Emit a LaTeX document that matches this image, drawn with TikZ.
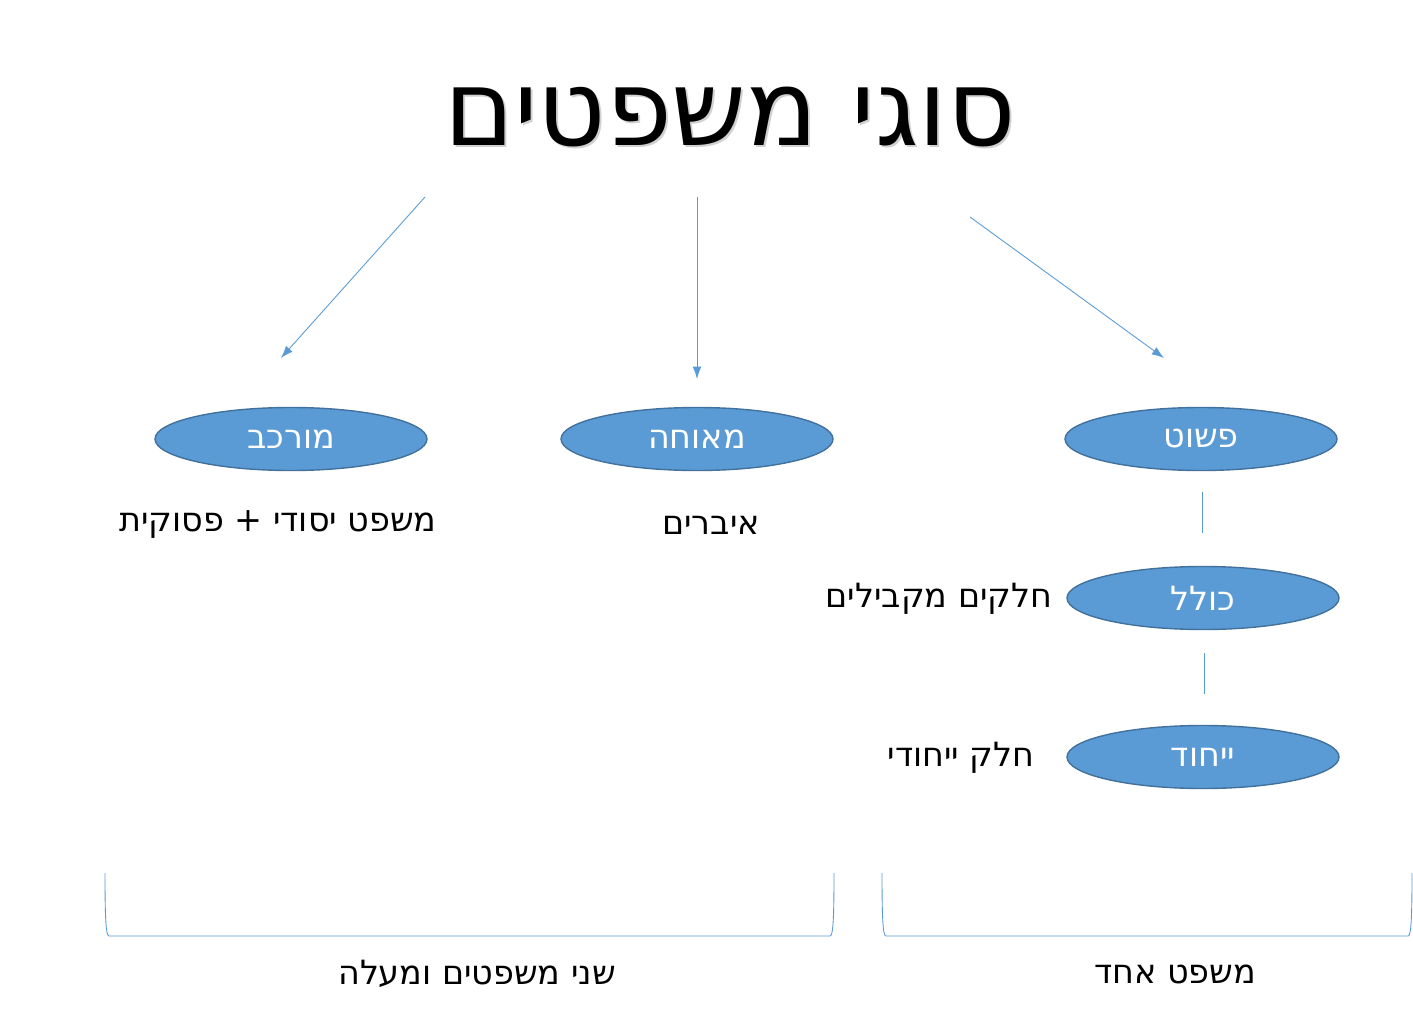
\documentclass[tikz,border=0pt]{standalone}
\usepackage{fontspec}
\setmainfont{DejaVu Sans}
\usetikzlibrary{arrows.meta,shapes.geometric}
\TeXXeTstate=1
\newcommand{\heb}[1]{\beginR #1\endR}
\definecolor{blu}{HTML}{5B9BD5}
\definecolor{bord}{HTML}{41719C}
\begin{document}
\begin{tikzpicture}[x=0.02cm,y=-0.02cm,
  ov/.style={ellipse,fill=blu,draw=bord,line width=0.8pt,minimum width=272*0.02cm,minimum height=63*0.02cm,inner sep=0pt,text=white,font=\fontsize{19}{22}\selectfont},
  lab/.style={font=\fontsize{19}{22}\selectfont,inner sep=0pt},
  arr/.style={draw=blu,line width=0.5pt,-{Latex[length=7pt,width=5pt]}},
  ln/.style={draw=blu,line width=0.5pt}]
\useasboundingbox (0,0) rectangle (1413,1017);
\node[font=\fontsize{60}{68}\selectfont,text=black!18,inner sep=0pt] (shadow) at (732,119) {\heb{סוגי משפטים}};
\node[font=\fontsize{60}{68}\selectfont,inner sep=0pt] (title) at (730,117) {\heb{סוגי משפטים}};
\coordinate (a1) at (425,197); \coordinate (b1) at (281,358);
\coordinate (a2) at (697,197); \coordinate (b2) at (697,379);
\coordinate (a3) at (970,217); \coordinate (b3) at (1164,358);
\draw[arr] (a1) -- (b1);
\draw[arr] (a2) -- (b2);
\draw[arr] (a3) -- (b3);
\node[ov] (murkav) at (291,439) {\heb{מורכב}};
\node[ov] (meuhe) at (697,439) {\heb{מאוחה}};
\node[ov] (pashut) at (1201,439) {\heb{פשוט}};
\node[ov] (kolel) at (1203,598) {\heb{כולל}};
\node[ov] (yihud) at (1203,757) {\heb{ייחוד}};
\node[lab] (l1) at (278,525) {\heb{משפט יסודי + פסוקית}};
\node[lab] (l2) at (711,525) {\heb{איברים}};
\node[lab] (l3) at (939,599) {\heb{חלקים מקבילים}};
\node[lab] (l4) at (961,758) {\heb{חלק ייחודי}};
\coordinate (v1) at (1202,492); \coordinate (v2) at (1202,533);
\coordinate (v3) at (1204,653); \coordinate (v4) at (1204,694);
\draw[ln] (v1) -- (v2);
\draw[ln] (v3) -- (v4);
\draw[ln] (105,873) .. controls (105,920) and (106,936) .. (109,936) -- (830,936) .. controls (833,936) and (834,920) .. (834,873);
\draw[ln] (882,873) .. controls (882,920) and (883,936) .. (886,936) -- (1408,936) .. controls (1411,936) and (1412,920) .. (1412,873);
\node[lab] (b1l) at (477,974) {\heb{שני משפטים ומעלה}};
\node[lab] (b2l) at (1175,974) {\heb{משפט אחד}};
\end{tikzpicture}
\end{document}
